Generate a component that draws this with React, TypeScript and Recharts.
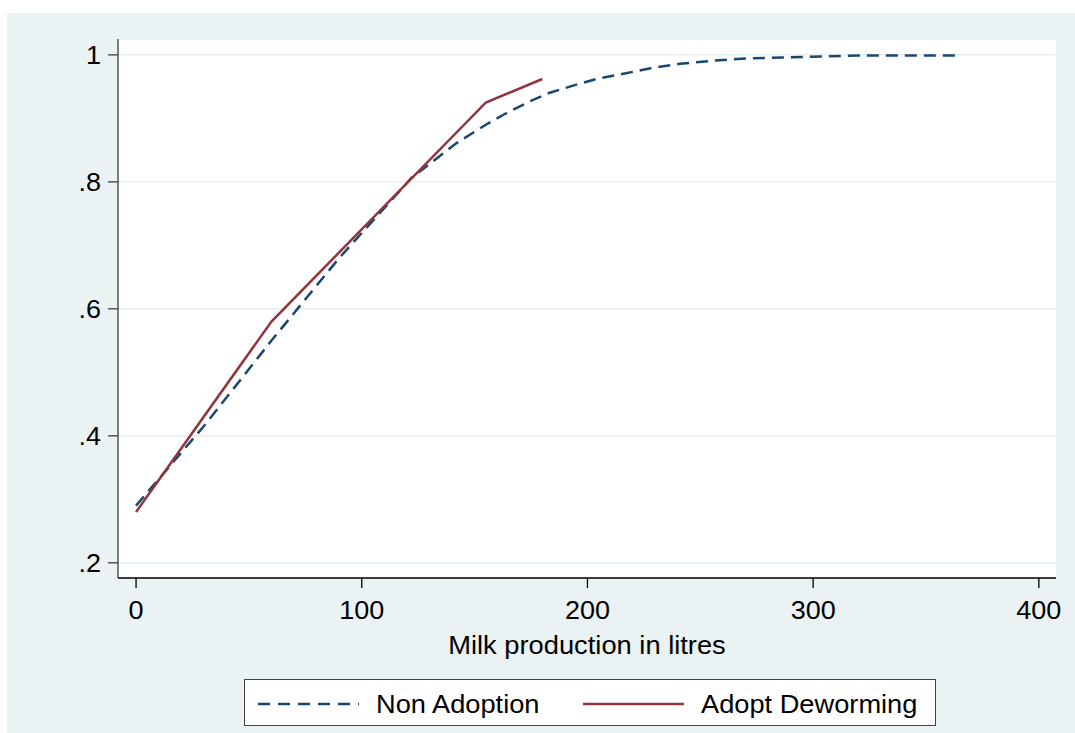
import React from "react";
import { LineChart, Line, XAxis, YAxis, CartesianGrid } from "recharts";

const nonAdoptionX = [0, 30, 60, 90, 122, 142, 155, 164, 174, 183, 194, 205, 217, 228, 241, 256, 268, 287, 320, 364];
const nonAdoptionY = [0.29, 0.415, 0.55, 0.68, 0.806, 0.861, 0.89, 0.908, 0.926, 0.94, 0.952, 0.963, 0.971, 0.979, 0.986, 0.991, 0.994, 0.996, 0.999, 0.999];
const adoptX = [0, 60, 155, 180];
const adoptY = [0.28, 0.58, 0.925, 0.962];

const xTicks = [0, 100, 200, 300, 400];
const yTicks = [0.2, 0.4, 0.6, 0.8, 1];

const seriesNames = ["Non Adoption", "Adopt Deworming"];
const xTitle = "Milk production in litres";

const nonAdoptionData = nonAdoptionX.map((x, i) => ({ x, y: nonAdoptionY[i] }));
const adoptData = adoptX.map((x, i) => ({ x, y: adoptY[i] }));

const BLUE = "#1A476F";
const RED = "#90353B";
const BG = "#EAF2F3";
const FONT = "'Liberation Sans', Arial, sans-serif";

const fmtY = (v: number) => (v === 1 ? "1" : String(v).replace(/^0/, ""));

function SText({ x, y, sx, size, anchor, dy, children }: any) {
  return (
    <g transform={`translate(${x},${y}) scale(${sx},1)`}>
      <text x={0} y={0} dy={dy} textAnchor={anchor} fontSize={size} fontFamily={FONT} fill="#000">
        {children}
      </text>
    </g>
  );
}

const XTick = (props: any) => (
  <SText x={props.x} y={props.y} sx={1.08} size={25} anchor="middle" dy="0.71em">
    {props.payload.value}
  </SText>
);

const YTick = (props: any) => (
  <SText x={props.x} y={props.y} sx={1.08} size={25} anchor="end" dy="0.355em">
    {fmtY(props.payload.value)}
  </SText>
);

export default function App() {
  return (
    <div style={{ position: "absolute", left: 0, top: 0, width: 1075, height: 733, background: "#fff", fontFamily: FONT }}>
      <div style={{ position: "absolute", left: 7, top: 13, width: 1068, height: 720, background: BG }} />
      <div style={{ position: "absolute", left: 0, top: 0 }}>
        <LineChart width={1075} height={733} margin={{ top: 39, right: 19, left: 0, bottom: 55 }}>
          <CartesianGrid horizontal vertical={false} fill="#fff" stroke="#E6EEF0" strokeWidth={1.5} />
          <XAxis
            type="number"
            dataKey="x"
            domain={[-8, 407.6]}
            ticks={xTicks}
            allowDataOverflow
            height={100}
            stroke="#000"
            strokeWidth={1.3}
            tickSize={10}
            tickMargin={13}
            tick={XTick}
            label={{
              content: (props: any) => {
                const vb = props.viewBox || {};
                return (
                  <SText x={vb.x + vb.width / 2} y={vb.y + 76} sx={1.05} size={26} anchor="middle" dy={0}>
                    {xTitle}
                  </SText>
                );
              },
            }}
          />
          <YAxis
            type="number"
            dataKey="y"
            domain={[0.176, 1.025]}
            ticks={yTicks}
            allowDataOverflow
            width={118}
            stroke="#555"
            strokeWidth={1.5}
            tickSize={10}
            tickMargin={7}
            tick={YTick}
          />
          <Line
            data={nonAdoptionData}
            dataKey="y"
            type="linear"
            stroke={BLUE}
            strokeWidth={2.5}
            strokeDasharray="12 7"
            dot={false}
            activeDot={false}
            isAnimationActive={false}
          />
          <Line
            data={adoptData}
            dataKey="y"
            type="linear"
            stroke={RED}
            strokeWidth={2.5}
            dot={false}
            activeDot={false}
            isAnimationActive={false}
          />
        </LineChart>
      </div>
      <div
        style={{
          position: "absolute",
          left: 244,
          top: 679,
          width: 692,
          height: 47,
          background: "#fff",
          border: "1px solid #444",
          boxSizing: "border-box",
        }}
      >
        <svg width={690} height={45} style={{ position: "absolute", left: 0, top: 0 }}>
          <line x1={13} x2={114} y1={24} y2={24} stroke={BLUE} strokeWidth={2.5} strokeDasharray="12 8" />
          <SText x={131} y={33} sx={1.09} size={25} anchor="start" dy={0}>{seriesNames[0]}</SText>
          <line x1={338} x2={439} y1={24} y2={24} stroke={RED} strokeWidth={2.5} />
          <SText x={456} y={33} sx={1.09} size={25} anchor="start" dy={0}>{seriesNames[1]}</SText>
        </svg>
      </div>
    </div>
  );
}
